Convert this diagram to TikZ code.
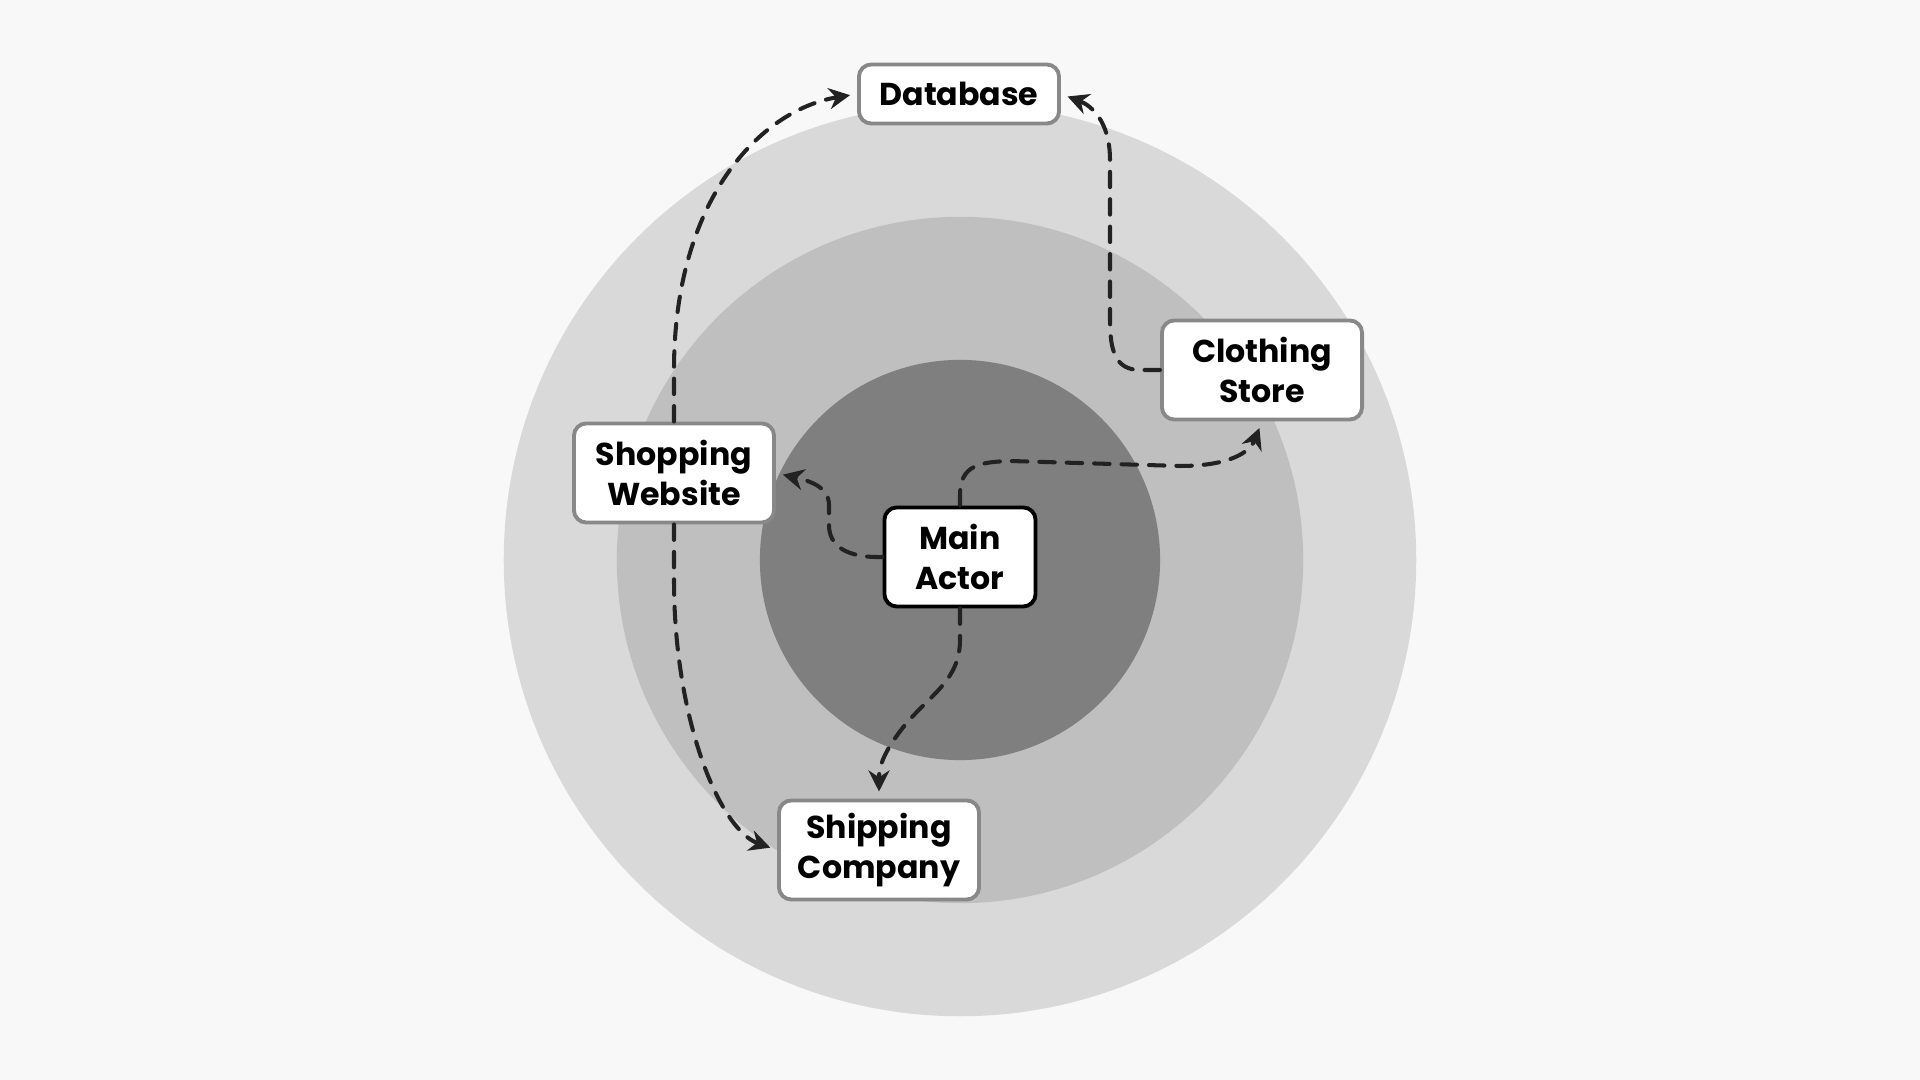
\documentclass[tikz,border=0pt]{standalone}
\usepackage{fontspec}
\setmainfont{Poppins}
\usetikzlibrary{arrows.meta, positioning}
\definecolor{bgpage}{HTML}{F8F8F8}
\definecolor{ringout}{HTML}{D9D9D9}
\definecolor{ringmid}{HTML}{BFBFBF}
\definecolor{ringin}{HTML}{7F7F7F}
\definecolor{boxline}{HTML}{888888}
\definecolor{linkline}{HTML}{222222}

\begin{document}
\begin{tikzpicture}[
    x=0.01cm, y=-0.01cm,
    box/.style={rectangle, draw=boxline, line width=1.1pt, rounded corners=3.5pt, fill=white, minimum width=2cm, minimum height=0.99cm, inner sep=0pt, align=center, font=\fontsize{9}{11.4}\selectfont\bfseries},
    link/.style={-{Stealth[length=6pt, width=6pt]}, line width=1.15pt, line cap=round, draw=linkline, dash pattern=on 4.4pt off 3.4pt, shorten >=2pt}
]
\useasboundingbox[fill=bgpage] (0,0) rectangle (1920,1080);
% Rings
\fill[ringout] (960,560) circle [radius=4.56cm];
\fill[ringmid] (960,560) circle [radius=3.43cm];
\fill[ringin] (960,560) circle [radius=2.0cm];

% Boxes
\node[box, minimum height=0.59cm] (db) at (959,94) {Database};
\node[box] (cs) at (1262,370) {Clothing\\Store};
\node[box] (sw) at (674,473) {Shopping\\Website};
\node[box, draw=black, minimum width=1.51cm] (main) at (960,557) {Main\\Actor};
\node[box] (ship) at (879,850) {Shipping\\Company};

% Links
\draw[link] (main.west) .. controls (845,558) and (829,545) .. (829,525) -- (829,505) .. controls (829,485) and (805,480) .. (sw.east);
\draw[link] (main.north) -- (960,495) .. controls (960,465) and (980,462) .. (1010,461) -- (1180,466) .. controls (1230,466) and (1250,452) .. (cs.south);
\draw[link] (main.south) -- (960,640) .. controls (960,680) and (930,695) .. (905,725) .. controls (885,750) and (879,765) .. (ship.north);
\draw[link] (sw.north) -- (674,370) .. controls (674,200) and (760,110) .. (db.west);
\draw[link] (sw.south) -- (674,580) .. controls (674,720) and (720,830) .. (ship.west);
\draw[link] (cs.west) -- (1140,370) .. controls (1115,370) and (1110,350) .. (1110,320) -- (1110,160) .. controls (1110,120) and (1090,105) .. (db.east);
\end{tikzpicture}
\end{document}
